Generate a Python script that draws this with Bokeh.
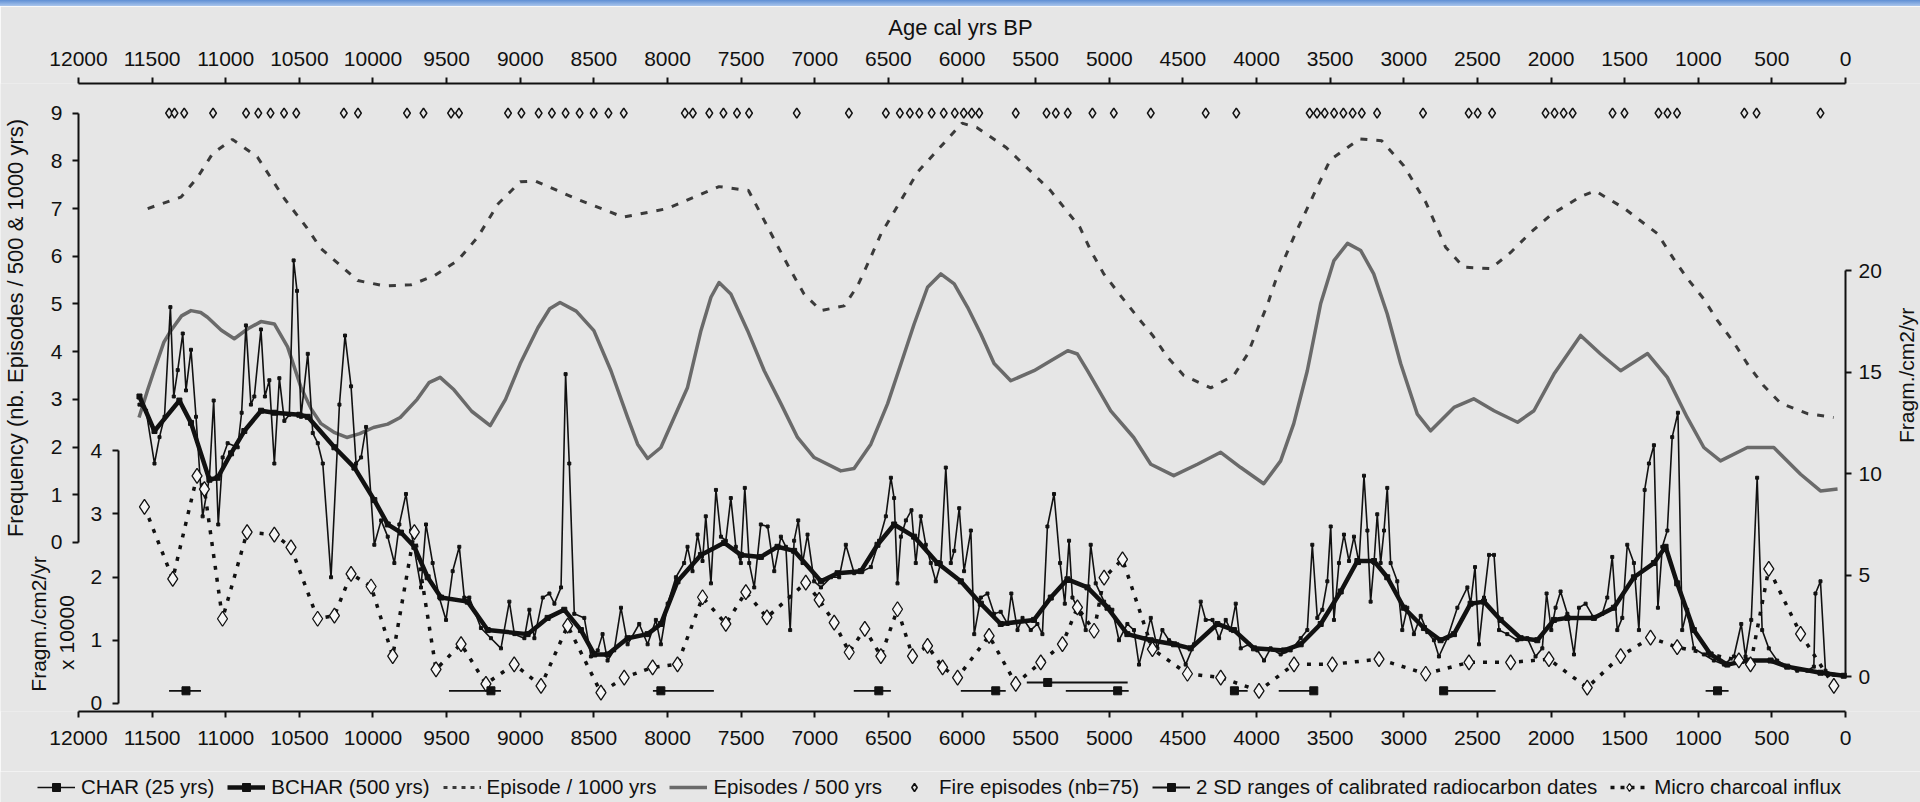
import math
from bokeh.plotting import figure
from bokeh.models import (Range1d, LinearAxis, FixedTicker, Legend, LegendItem,
                          Div, ColumnDataSource)
from bokeh.layouts import column
from bokeh.embed import file_html
from bokeh.resources import INLINE

# ---------------- data (years cal BP) ----------------
X_TICKS = list(range(0, 12001, 500))
FREQ_TICKS = list(range(0, 10))
CHAR_TICKS = [0, 5, 10, 15, 20]
MICRO_TICKS = [0, 1, 2, 3, 4]

char_year = [11586, 11541, 11484, 11450, 11416, 11376, 11353, 11326, 11292, 11270, 11236, 11202,
             11157, 11111, 11082, 11051, 11021, 10987, 10919, 10892, 10863, 10829, 10806, 10761,
             10734, 10704, 10670, 10636, 10602, 10568, 10539, 10516, 10489, 10443, 10409, 10375,
             10341, 10285, 10228, 10190, 10149, 10115, 10081, 10047, 9991, 9945, 9900, 9855, 9821,
             9776, 9742, 9674, 9640, 9595, 9550, 9504, 9459, 9414, 9380, 9346, 9267, 9199, 9131,
             9074, 9040, 8972, 8938, 8904, 8847, 8802, 8768, 8723, 8692, 8667, 8633, 8565, 8520,
             8474, 8441, 8407, 8362, 8316, 8271, 8192, 8135, 8079, 8045, 7999, 7943, 7887, 7864,
             7830, 7796, 7762, 7740, 7705, 7671, 7637, 7604, 7570, 7536, 7502, 7475, 7445, 7411,
             7366, 7320, 7275, 7230, 7196, 7167, 7140, 7112, 7083, 7049, 7004, 6958, 6890, 6834,
             6789, 6732, 6676, 6619, 6563, 6517, 6483, 6461, 6438, 6415, 6381, 6343, 6314, 6280,
             6246, 6212, 6178, 6144, 6110, 6076, 6053, 6019, 5986, 5940, 5917, 5872, 5827, 5782,
             5737, 5690, 5665, 5623, 5589, 5533, 5488, 5454, 5420, 5375, 5334, 5302, 5273, 5250,
             5194, 5160, 5126, 5092, 5035, 4979, 4934, 4877, 4832, 4798, 4752, 4718, 4673, 4639,
             4594, 4537, 4481, 4424, 4379, 4345, 4299, 4254, 4209, 4175, 4141, 4107, 4051, 3994,
             3949, 3904, 3836, 3768, 3700, 3655, 3621, 3587, 3553, 3519, 3496, 3474, 3440, 3406,
             3372, 3338, 3304, 3270, 3247, 3225, 3202, 3180, 3157, 3134, 3112, 3089, 3044, 3010,
             2976, 2931, 2885, 2840, 2795, 2761, 2704, 2636, 2568, 2546, 2516, 2489, 2455, 2421,
             2387, 2353, 2297, 2229, 2161, 2105, 2059, 2030, 1998, 1969, 1935, 1889, 1844, 1810,
             1765, 1709, 1652, 1618, 1584, 1550, 1516, 1482, 1437, 1403, 1364, 1335, 1301, 1274,
             1244, 1210, 1177, 1138, 1109, 1075, 1030, 962, 894, 826, 758, 708, 679, 640, 600,
             566, 521, 464, 396, 328, 260, 215, 204, 170, 136, 79, 12]
char_val = [13.4, 13.1, 10.5, 11.8, 12.8, 18.2, 13.8, 15.1, 16.9, 14.1, 16.1, 12.8,
            7.9, 9.8, 13.6, 7.5, 10.8, 11.5, 11.3, 13.0, 17.3, 13.4, 13.8, 17.1,
            13.8, 14.6, 10.5, 14.7, 12.6, 12.9, 20.5, 19.0, 12.8, 15.9, 12.0, 11.5,
            10.5, 4.9, 13.4, 16.8, 14.3, 10.5, 10.8, 12.3, 6.5, 7.7, 6.9, 5.6, 7.5,
            9.0, 7.2, 4.4, 7.5, 5.6, 3.9, 2.8, 5.2, 6.4, 3.9, 3.9, 2.4, 1.9, 1.4,
            3.7, 2.1, 1.9, 3.3, 1.9, 3.9, 4.1, 3.6, 4.4, 14.9, 10.5, 3.1, 2.9, 1.0,
            1.3, 2.1, 0.8, 1.3, 3.4, 1.6, 2.6, 1.6, 2.8, 1.6, 3.6, 4.9, 5.6, 6.4,
            5.2, 7.0, 5.7, 7.9, 4.6, 9.2, 6.9, 6.7, 8.8, 6.4, 5.6, 9.3, 5.6, 4.4,
            7.5, 7.4, 5.2, 6.9, 6.4, 2.3, 6.7, 7.7, 5.6, 7.0, 4.7, 4.4, 4.9, 4.9,
            6.5, 5.1, 5.2, 5.4, 6.7, 7.9, 9.8, 8.8, 4.6, 6.9, 7.7, 8.2, 5.6, 7.9,
            6.5, 5.6, 4.7, 5.6, 10.3, 5.6, 6.2, 8.3, 5.2, 7.2, 2.1, 3.9, 4.1, 3.1,
            3.2, 2.6, 4.1, 2.3, 2.9, 2.3, 2.6, 2.1, 7.4, 9.0, 5.6, 3.6, 6.7, 3.9,
            3.1, 2.3, 6.5, 4.6, 3.7, 3.3, 1.8, 2.6, 2.3, 0.6, 1.9, 2.9, 1.4, 2.3,
            1.8, 1.6, 0.6, 1.6, 3.7, 2.8, 2.8, 1.9, 2.8, 2.3, 3.6, 1.4, 1.6, 1.3,
            0.8, 1.4, 1.1, 1.3, 1.9, 2.3, 6.5, 2.9, 3.3, 4.7, 7.4, 2.8, 5.6, 7.0,
            5.7, 6.9, 5.6, 9.9, 7.2, 3.7, 5.6, 8.0, 5.6, 7.2, 9.3, 5.6, 4.7, 2.3,
            3.4, 2.1, 3.0, 2.2, 1.8, 1.0, 1.9, 3.4, 4.4, 3.6, 5.4, 1.6, 3.9, 6.0,
            6.0, 2.3, 2.1, 1.8, 1.9, 1.0, 1.4, 4.1, 2.3, 3.4, 4.2, 3.1, 1.1, 3.4,
            3.6, 2.9, 3.1, 3.9, 5.9, 2.3, 2.9, 6.5, 5.6, 2.3, 9.2, 10.5, 11.4, 3.4,
            6.4, 7.2, 11.8, 13.0, 2.3, 3.3, 1.4, 1.1, 0.8, 0.6, 1.0, 2.6, 1.0, 2.8, 9.8,
            2.3, 1.4, 0.8, 0.5, 0.3, 0.3, 0.5, 4.1, 4.7, 0.3, 0.1, 0.05]

bchar_year = [11586, 11484, 11315, 11236, 11111, 11055, 10964, 10874, 10760, 10670, 10500, 10443,
              10262, 10126, 9991, 9900, 9810, 9719, 9629, 9538, 9357, 9221, 8950, 8814, 8701,
              8588, 8497, 8407, 8271, 8135, 8045, 7932, 7773, 7615, 7502, 7366, 7253, 7140, 6958,
              6845, 6687, 6574, 6461, 6325, 6167, 6008, 5872, 5737, 5511, 5397, 5284, 5148, 5012,
              4877, 4718, 4560, 4447, 4266, 4153, 4017, 3813, 3700, 3564, 3428, 3315, 3202, 3112,
              2999, 2863, 2750, 2659, 2546, 2455, 2342, 2206, 2093, 1980, 1889, 1709, 1573, 1437,
              1301, 1222, 1143, 1030, 916, 803, 667, 509, 396, 170, 12]
bchar_val = [13.8, 12.1, 13.6, 12.5, 9.7, 9.8, 11.0, 12.1, 13.1, 13.0, 12.9, 12.8,
             11.3, 10.3, 8.7, 7.5, 7.1, 6.4, 4.9, 3.9, 3.7, 2.3, 2.1, 2.9, 3.3,
             2.3, 1.1, 1.1, 1.9, 2.1, 2.6, 4.7, 6.0, 6.6, 6.0, 5.9, 6.4, 6.2, 4.7,
             5.1, 5.2, 6.5, 7.5, 6.9, 5.6, 4.7, 3.6, 2.6, 2.8, 3.9, 4.8, 4.4, 3.4,
             2.1, 1.8, 1.6, 1.4, 2.6, 2.3, 1.4, 1.3, 1.6, 2.6, 4.2, 5.7, 5.7, 4.9,
             3.4, 2.4, 1.8, 2.1, 3.6, 3.7, 2.8, 1.9, 1.8, 2.8, 2.9, 2.9, 3.4, 4.9,
             5.6, 6.4, 4.6, 2.3, 1.1, 0.6, 0.8, 0.8, 0.5, 0.2, 0.05]

ep500_year = [11589, 11530, 11487, 11420, 11373, 11300, 11236, 11170, 11124, 11030, 10942, 10850,
              10761, 10670, 10580, 10489, 10420, 10353, 10260, 10178, 10090, 9997, 9900, 9815,
              9700, 9620, 9544, 9450, 9330, 9204, 9100, 9000, 8880, 8800, 8730, 8620, 8500, 8384,
              8271, 8203, 8135, 8045, 7955, 7864, 7773, 7705, 7650, 7570, 7456, 7343, 7230, 7117,
              7004, 6823, 6733, 6619, 6505, 6415, 6325, 6234, 6144, 6053, 5962, 5872, 5782, 5669,
              5511, 5397, 5282, 5216, 5148, 4990, 4834, 4718, 4562, 4401, 4243, 4107, 3951, 3836,
              3747, 3655, 3564, 3474, 3382, 3292, 3204, 3112, 3021, 2908, 2817, 2659, 2525, 2387,
              2227, 2116, 1980, 1799, 1663, 1527, 1344, 1210, 1075, 962, 849, 667, 487, 305, 170, 54]
ep500_val = [2.62, 3.2, 3.6, 4.2, 4.44, 4.75, 4.86, 4.82, 4.72, 4.45, 4.27, 4.48,
             4.63, 4.58, 4.1, 3.25, 2.8, 2.49, 2.3, 2.2, 2.28, 2.41, 2.48, 2.62,
             3.0, 3.35, 3.46, 3.2, 2.75, 2.45, 3.0, 3.75, 4.5, 4.9, 5.03, 4.85, 4.44, 3.6,
             2.62, 2.06, 1.76, 1.99, 2.62, 3.25, 4.44, 5.14, 5.45, 5.21, 4.44, 3.6, 2.91, 2.2,
             1.78, 1.5, 1.55, 2.06, 2.91, 3.74, 4.58, 5.35, 5.63, 5.42, 4.93, 4.37, 3.75, 3.39,
             3.6, 3.81, 4.02, 3.95, 3.6, 2.76, 2.2, 1.64, 1.4, 1.64, 1.89, 1.57, 1.23, 1.71,
             2.49, 3.6, 5.01, 5.91, 6.27, 6.12, 5.63, 4.79, 3.75, 2.69, 2.34, 2.83, 3.01, 2.76,
             2.52, 2.76, 3.53, 4.34, 3.95, 3.6, 3.96, 3.46, 2.62, 1.99, 1.71, 1.99, 1.99, 1.43, 1.08, 1.12]

ep1000_year = [11530, 11304, 11190, 11090, 10955, 10785, 10600, 10450, 10353, 10104, 9924, 9743,
               9585, 9425, 9289, 9150, 9000, 8900, 8600, 8300, 8000, 7650, 7450, 7253, 7163, 7073,
               6958, 6800, 6709, 6630, 6550, 6300, 6000, 5900, 5700, 5400, 5200, 5126, 5037, 4922,
               4807, 4705, 4603, 4494, 4311, 4155, 4060, 3992, 3924, 3870, 3802, 3734, 3500, 3300,
               3150, 3000, 2850, 2716, 2593, 2410, 2274, 2138, 2000, 1800, 1700, 1500, 1276, 1168,
               1073, 964, 869, 760, 659, 557, 441, 258, 81]
ep1000_val = [7.0, 7.24, 7.66, 8.15, 8.45, 8.08, 7.2, 6.6, 6.16, 5.49, 5.38, 5.4,
              5.59, 5.91, 6.4, 7.1, 7.56, 7.58, 7.18, 6.82, 7.0, 7.46, 7.38, 6.22, 5.7, 5.21,
              4.86, 4.96, 5.38, 5.91, 6.47, 7.77, 8.79, 8.7, 8.28, 7.38, 6.61, 6.12, 5.63, 5.17,
              4.72, 4.34, 3.88, 3.5, 3.24, 3.5, 3.95, 4.48, 5.0, 5.49, 6.01, 6.49, 8.02, 8.46,
              8.42, 7.9, 7.13, 6.19, 5.77, 5.74, 6.08, 6.5, 6.87, 7.25, 7.37, 7.0, 6.47, 5.95,
              5.53, 5.11, 4.65, 4.2, 3.71, 3.29, 2.92, 2.7, 2.62]

fire_year = [11385, 11348, 11282, 11086, 10862, 10779, 10696, 10604, 10521, 10198, 10102,
             9769, 9657, 9470, 9416, 9083, 8992, 8875, 8785, 8692, 8597, 8501, 8401, 8297,
             7882, 7828, 7716, 7620, 7528, 7446, 7122, 6768, 6517, 6422, 6354, 6290, 6206,
             6124, 6049, 5988, 5934, 5883, 5635, 5426, 5363, 5282, 5114, 4969, 4718, 4345,
             4137, 3639, 3589, 3537, 3473, 3410, 3347, 3285, 3181, 2869, 2559, 2498, 2400,
             2037, 1976, 1914, 1853, 1582, 1501, 1270, 1209, 1144, 687, 604, 170]
FIRE_LEVEL = 9

micro_year = [11552, 11360, 11195, 11145, 11022, 10855, 10670, 10557, 10376, 10262, 10149, 10013,
              9866, 9719, 9572, 9402, 9233, 9041, 8859, 8678, 8452, 8294, 8101, 7932, 7762, 7604,
              7468, 7325, 7061, 6970, 6868, 6766, 6660, 6551, 6438, 6336, 6234, 6132, 6030, 5816,
              5635, 5465, 5318, 5216, 5103, 5035, 4910, 4707, 4469, 4243, 3983, 3745, 3485, 3168,
              2851, 2557, 2274, 2014, 1754, 1527, 1324, 1143, 724, 645, 521, 305, 79]
micro_val = [3.11, 1.97, 3.6, 3.39, 1.34, 2.71, 2.67, 2.47, 1.34, 1.39, 2.05, 1.85,
             0.75, 2.71, 0.54, 0.94, 0.31, 0.62, 0.28, 1.23, 0.17, 0.41, 0.57, 0.62, 1.68, 1.26,
             1.76, 1.36, 1.91, 1.64, 1.28, 0.81, 1.18, 0.75, 1.49, 0.75, 0.91, 0.57, 0.41, 1.07,
             0.31, 0.65, 0.94, 1.52, 1.15, 1.99, 2.28, 0.86, 0.47, 0.41, 0.2, 0.62, 0.62, 0.7,
             0.47, 0.65, 0.65, 0.7, 0.25, 0.75, 1.04, 0.89, 0.68, 0.62, 2.13, 1.1, 0.28]

sd_start = [11385, 9484, 8099, 6735, 6008, 5560, 5295, 4180, 3849, 2729, 950]
sd_end = [11168, 9131, 7685, 6483, 5703, 4875, 4868, 4060, 3611, 2376, 794]
sd_mid = [11270, 9199, 8045, 6565, 5771, 5418, 4943, 4150, 3611, 2729, 869]
sd_row = [-0.69, -0.69, -0.69, -0.69, -0.69, -0.28, -0.69, -0.69, -0.69, -0.69, -0.69]

# ---------------- styling ----------------
FONT = "Liberation Sans"
BG = "#e6e6e6"
INK = "#111111"
EP500_COLOR = "#6a6a6a"
EP1000_COLOR = "#3a3a3a"

# frame spans the full width; 12000 BP sits at x=78 px and 0 BP at x=1845 px
X_LEFT, X_RIGHT = 12529.7, -509.3
AGE_MAX, AGE_MIN = 12000, 0
MICRO_AXIS_X = 11731
BAND_H = 6

p = figure(frame_width=1920, frame_height=628,
           x_range=Range1d(X_LEFT, X_RIGHT), y_range=Range1d(-1.709, 29.21),
           output_backend="svg", toolbar_location=None,
           x_axis_location=None, y_axis_location=None,
           min_border_left=0, min_border_right=0, min_border_top=83 - BAND_H, min_border_bottom=60,
           background_fill_color=BG, border_fill_color=BG, outline_line_color=None, margin=0)
for g in p.grid:
    g.visible = False
p.extra_y_ranges = {"freq": Range1d(-3.545, 9.622), "micro": Range1d(-0.127, 9.805)}


def style_axis(ax):
    ax.axis_line_width = 2
    ax.axis_line_color = INK
    ax.major_tick_line_width = 2
    ax.major_tick_line_color = INK
    ax.major_tick_out = 6
    ax.major_tick_in = 0
    ax.minor_tick_line_color = None
    ax.major_label_text_font = FONT
    ax.major_label_text_font_size = "21px"
    ax.major_label_text_color = INK
    ax.axis_label_text_font = FONT
    ax.axis_label_text_font_style = "normal"
    ax.axis_label_text_font_size = "22px"
    ax.axis_label_text_color = INK


def label_only(ax):
    ax.axis_line_color = None
    ax.major_tick_line_color = None
    ax.major_tick_out = 0
    ax.minor_tick_line_color = None
    ax.minor_tick_out = 0
    ax.axis_label_text_font = FONT
    ax.axis_label_text_font_style = "normal"
    ax.axis_label_text_font_size = "21px"
    ax.axis_label_text_color = INK


top = LinearAxis(ticker=FixedTicker(ticks=X_TICKS), bounds=(AGE_MIN, AGE_MAX),
                 axis_label="Age cal yrs BP")
style_axis(top)
top.major_label_standoff = 12
top.axis_label_standoff = 9
p.add_layout(top, "above")

bottom = LinearAxis(ticker=FixedTicker(ticks=X_TICKS), bounds=(AGE_MIN, AGE_MAX))
style_axis(bottom)
bottom.major_label_standoff = 13
p.add_layout(bottom, "below")

freq_ax = LinearAxis(y_range_name="freq", ticker=FixedTicker(ticks=FREQ_TICKS), bounds=(0, 9),
                     fixed_location=AGE_MAX,
                     axis_label="Frequency (nb. Episodes / 500 & 1000 yrs)")
style_axis(freq_ax)
freq_ax.major_label_standoff = 10
freq_ax.axis_label_standoff = 20
p.add_layout(freq_ax, "left")

right_ax = LinearAxis(ticker=FixedTicker(ticks=CHAR_TICKS), bounds=(0, 20), fixed_location=AGE_MIN)
style_axis(right_ax)
right_ax.major_label_standoff = 7
p.add_layout(right_ax, "right")

# right-hand axis title (beside the upper part of the 0-20 scale, reading upwards)
right_title = LinearAxis(ticker=FixedTicker(ticks=[]), fixed_location=AGE_MIN, bounds=(6.49, 16.49),
                         axis_label="Fragm./cm2/yr")
label_only(right_title)
right_title.axis_label_standoff = 61
right_title.axis_label_orientation = math.pi / 2
p.add_layout(right_title, "right")

# inner axis for micro-charcoal influx (x 10000)
micro_ax = LinearAxis(y_range_name="micro", ticker=FixedTicker(ticks=MICRO_TICKS), bounds=(0, 4),
                      fixed_location=MICRO_AXIS_X)
style_axis(micro_ax)
micro_ax.major_label_standoff = 10
p.add_layout(micro_ax, "left")

micro_title1 = LinearAxis(y_range_name="micro", ticker=FixedTicker(ticks=[]), bounds=(0, 2.52),
                          fixed_location=MICRO_AXIS_X, axis_label="Fragm./cm2/yr")
label_only(micro_title1)
micro_title1.axis_label_standoff = 69
p.add_layout(micro_title1, "left")

micro_title2 = LinearAxis(y_range_name="micro", ticker=FixedTicker(ticks=[]), bounds=(0, 2.24),
                          fixed_location=MICRO_AXIS_X, axis_label="x 10000")
label_only(micro_title2)
micro_title2.axis_label_standoff = 41
p.add_layout(micro_title2, "left")

# ---------------- series ----------------
p.line(ep500_year, ep500_val, y_range_name="freq", line_color=EP500_COLOR, line_width=3.5,
       line_join="round")
p.line(ep1000_year, ep1000_val, y_range_name="freq", line_color=EP1000_COLOR,
       line_width=3, line_dash="7 9")

char_src = ColumnDataSource(dict(x=char_year, y=char_val))
p.line("x", "y", source=char_src, line_color=INK, line_width=1.6)
p.scatter("x", "y", source=char_src, marker="square", size=3, color=INK)

bchar_src = ColumnDataSource(dict(x=bchar_year, y=bchar_val))
p.line("x", "y", source=bchar_src, line_color=INK, line_width=4.5, line_join="round")
p.scatter("x", "y", source=bchar_src, marker="square", size=5, color=INK)

micro_src = ColumnDataSource(dict(x=micro_year, y=micro_val))
p.line("x", "y", source=micro_src, y_range_name="micro", line_color=INK,
       line_width=3.5, line_dash="4 8")
p.scatter("x", "y", source=micro_src, y_range_name="micro", marker="diamond", size=15,
          fill_color="#f6f6f6", line_color=INK, line_width=1.3)

sd_src = ColumnDataSource(dict(x0=sd_start, x1=sd_end, xm=sd_mid, y=sd_row))
p.segment(x0="x0", y0="y", x1="x1", y1="y", source=sd_src, line_color=INK, line_width=1.8)
p.scatter("xm", "y", source=sd_src, marker="square", size=8, color=INK)

p.scatter(fire_year, [FIRE_LEVEL] * len(fire_year), y_range_name="freq", marker="diamond",
          size=10, fill_color=BG, line_color=INK, line_width=1.6)

# ---------------- legend strip (own small figure under the chart) ----------------
lf = figure(width=1920, height=31, x_range=Range1d(0, 1), y_range=Range1d(0, 1),
            output_backend="svg", toolbar_location=None,
            x_axis_location=None, y_axis_location=None, min_border=0,
            background_fill_color=BG, border_fill_color=BG, outline_line_color=None, margin=0)
for g in lf.grid:
    g.visible = False
# one off-screen sample per proxy renderer so that the legend can draw its glyph
e = dict(x=[-5], y=[-5])
l_char = [lf.line(**e, line_color=INK, line_width=1.6),
          lf.scatter(**e, marker="square", size=3, color=INK)]
l_bchar = [lf.line(**e, line_color=INK, line_width=4.5),
           lf.scatter(**e, marker="square", size=5, color=INK)]
l_ep1000 = [lf.line(**e, line_color=EP1000_COLOR, line_width=3, line_dash="4 5")]
l_ep500 = [lf.line(**e, line_color=EP500_COLOR, line_width=3.5)]
l_fire = [lf.scatter(**e, marker="diamond", size=10, fill_color=BG, line_color=INK, line_width=1.6)]
l_sd = [lf.line(**e, line_color=INK, line_width=1.8),
        lf.scatter(**e, marker="square", size=8, color=INK)]
l_micro = [lf.line(**e, line_color=INK, line_width=3.5, line_dash="4 6"),
           lf.scatter(**e, marker="diamond", size=13, fill_color="#f6f6f6", line_color=INK,
                      line_width=1.3)]

legend = Legend(items=[
    LegendItem(label="CHAR (25 yrs)", renderers=l_char),
    LegendItem(label="BCHAR (500 yrs)", renderers=l_bchar),
    LegendItem(label="Episode / 1000 yrs", renderers=l_ep1000),
    LegendItem(label="Episodes / 500 yrs", renderers=l_ep500),
    LegendItem(label="Fire episodes (nb=75)", renderers=l_fire),
    LegendItem(label="2 SD ranges of calibrated radiocarbon dates", renderers=l_sd),
    LegendItem(label="Micro charcoal influx", renderers=l_micro),
], orientation="horizontal", location=(37, 3), label_text_font=FONT,
    label_text_font_size="20.5px", label_text_color=INK, glyph_width=38, glyph_height=20,
    spacing=13, label_standoff=6, padding=0, margin=0, border_line_color=None,
    background_fill_alpha=0)
lf.add_layout(legend, "center")

band = Div(text="", width=1920, height=BAND_H, margin=0,
           styles={"background": "linear-gradient(to bottom, #5f8fd4, #a9c5ec)"})
layout = column(band, p, lf, spacing=0)

open("out.html", "w").write(file_html(layout, INLINE))
